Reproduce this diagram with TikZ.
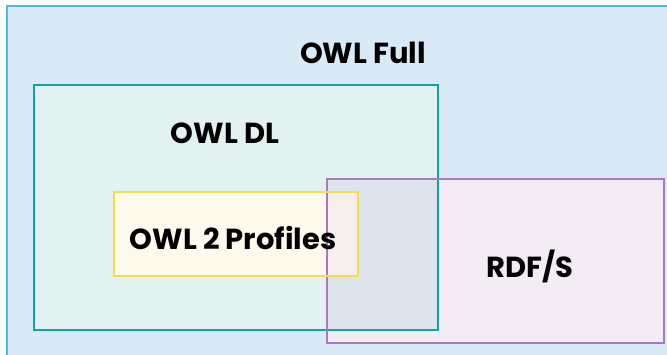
\documentclass[tikz,border=0pt]{standalone}
\usepackage{fontspec}
\setmainfont{Poppins}
\usepackage{xcolor}
\definecolor{fullfill}{HTML}{D9EAF7}
\definecolor{fullline}{HTML}{5AB4E5}
\definecolor{dlfill}{HTML}{E2F2F1}
\definecolor{dlline}{HTML}{14A39A}
\definecolor{proffill}{HTML}{FDF9EC}
\definecolor{profline}{HTML}{F7DC4A}
\definecolor{rdffill}{HTML}{F3ECF5}
\definecolor{rdfline}{HTML}{AD78B9}
\definecolor{dlrdf}{HTML}{DDE4EC}
\definecolor{profrdf}{HTML}{F7EEEE}
\begin{document}
\begin{tikzpicture}[x=1pt, y=-1pt, area/.style={inner sep=0pt, outer sep=0pt, anchor=north west}, rim/.style={line width=2.5pt}, lbl/.style={font=\bfseries\fontsize{29}{29}\selectfont, inner sep=0pt, anchor=base}]
  \useasboundingbox (0,0) rectangle (667,355);
  \clip (0,0) rectangle (667,355);
  \node[area, fill=fullfill, minimum width=680pt, minimum height=370pt](full) at (7,6){};
  \node[area, fill=dlfill, minimum width=404pt, minimum height=245pt](dl) at (34,85){};
  \node[area, fill=proffill, minimum width=244pt, minimum height=84pt](prof) at (114,192){};
  \node[area, fill=rdffill, minimum width=337pt, minimum height=164pt](rdf) at (327,179){};
  \fill[dlrdf] (rdf.north west) rectangle (dl.south east);
  \fill[profrdf] (rdf.west |- prof.north) rectangle (prof.south east);
  \draw[rim, fullline] (full.north west) rectangle (full.south east);
  \draw[rim, dlline] (dl.north west) rectangle (dl.south east);
  \draw[rim, rdfline] (rdf.north west) rectangle (rdf.south east);
  \draw[rim, profline] (prof.north west) rectangle (prof.south east);
  \node[lbl](fulltxt) at (363,64){OWL Full};
  \node[lbl](dltxt) at (225,144){OWL DL};
  \node[lbl](proftxt) at (233,250){OWL 2 Profiles};
  \node[lbl](rdftxt) at (530,278){RDF/S};
\end{tikzpicture}
\end{document}
